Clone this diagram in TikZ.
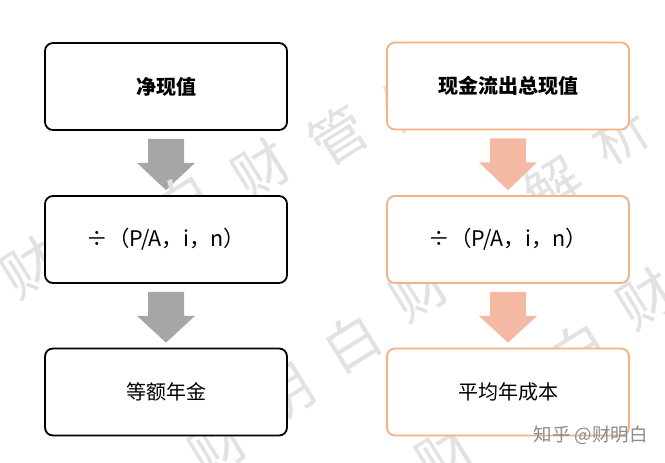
\documentclass[tikz,border=0pt]{standalone}
\usepackage{fontspec}
\setmainfont{Noto Sans CJK SC}
\usetikzlibrary{calc}
\pgfdeclarelayer{bg}
\pgfsetlayers{bg,main}
\definecolor{peach}{HTML}{F4B183}
\definecolor{salmon}{HTML}{F4B9A2}
\definecolor{arrgray}{HTML}{A6A6A6}
\definecolor{wmgray}{HTML}{E2E2E2}
\newcommand\blkarrow[3]{%
  \fill[#3] ($(#1.south)+(-18,8)$) -- ($(#1.south)+(18,8)$) -- ($(#1.south)+(18,32)$)
    -- ($(#1.south)+(29,32)$) -- ($(#2.north)+(0,-5)$) -- ($(#1.south)+(-29,32)$)
    -- ($(#1.south)+(-18,32)$) -- cycle;}
\begin{document}
\begin{tikzpicture}[x=1pt,y=-1pt,
  box/.style={draw, fill=white, rounded corners=8pt, line width=1.8pt,
    minimum width=242pt, minimum height=87pt, inner sep=0pt, font=\fontsize{20}{24}\selectfont},
  lbox/.style={box, draw=black},
  rbox/.style={box, draw=peach},
  formula/.style={font=\fontsize{21.5}{24}\selectfont},
  wm/.style={text=wmgray, font=\fontsize{56}{60}\selectfont, rotate=32, inner sep=0pt}]
\useasboundingbox (0,0) rectangle (665,463);
\begin{pgfonlayer}{bg}
\fill[white] (0,0) rectangle (665,463);
\end{pgfonlayer}
% boxes
\path (166,86.5) node[lbox] (l1) {\bfseries 净现值};
\path (166,239.5) node[lbox, formula] (l2) {÷（P/A，i，n）};
\path (166,392) node[lbox] (l3) {等额年金};
\path (508,86) node[rbox] (r1) {\bfseries 现金流出总现值};
\path (508,239.5) node[rbox, formula] (r2) {÷（P/A，i，n）};
\path (508,392) node[rbox] (r3) {平均年成本};
\begin{pgfonlayer}{bg}
% block arrows
\blkarrow{l1}{l2}{arrgray}
\blkarrow{l2}{l3}{arrgray}
\blkarrow{r1}{r2}{salmon}
\blkarrow{r2}{r3}{salmon}
% watermark (visible parts only)
\foreach \c/\px/\py in {财/30/268,白/184/202,财/261/169,管/338/136,解/412/100,
  财/218/447,明/285/395,白/352/343,财/419/291,解/553/187,析/620/135,
  财/445/455,白/579/351,财/646/299}
  \node[wm] (w-\px-\py) at (\px,\py) {\c};
\end{pgfonlayer}
\node[text=black!45, font=\fontsize{18.5}{20}\selectfont, anchor=east, inner sep=0pt] (zh) at (648,435) {知乎 @财明白};
\end{tikzpicture}
\end{document}
